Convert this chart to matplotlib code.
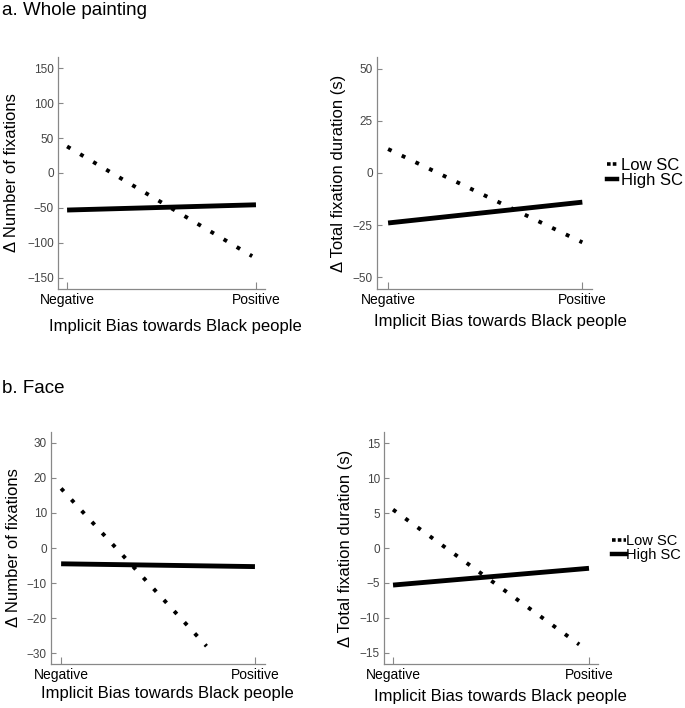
import matplotlib
matplotlib.use("Agg")
import matplotlib.pyplot as plt
from matplotlib.lines import Line2D

plt.rcParams['font.family'] = ['Liberation Sans', 'DejaVu Sans']

# x positions: 0 = Negative, 1 = Positive
bias_ticks = [0, 1]
bias_labels = ["Negative", "Positive"]

# a. whole painting
a_fix_low_x = [0, 0.98]
a_fix_low = [38, -119]
a_fix_high_x = [0, 1]
a_fix_high = [-53, -45.5]

a_dur_low_x = [0, 1.0]
a_dur_low = [11.5, -33.3]
a_dur_high_x = [0, 1]
a_dur_high = [-24, -14]

# b. face
b_fix_low_x = [0, 0.75]
b_fix_low = [17, -28]
b_fix_high_x = [0, 1]
b_fix_high = [-4.5, -5.3]

b_dur_low_x = [0, 0.95]
b_dur_low = [5.5, -13.8]
b_dur_high_x = [0, 1]
b_dur_high = [-5.3, -2.9]

fix_a_ticks = [-150, -100, -50, 0, 50, 100, 150]
dur_a_ticks = [-50, -25, 0, 25, 50]
fix_b_ticks = [-30, -20, -10, 0, 10, 20, 30]
dur_b_ticks = [-15, -10, -5, 0, 5, 10, 15]

xlab = "Implicit Bias towards Black people"
ylab_fix = "\u0394 Number of fixations"
ylab_dur = "\u0394 Total fixation duration (s)"

DOT = (0, (1, 2.9))


def style_axes(ax, yticks, ylim, ylabel, ylab_x, xlab_xy, xlim):
    ax.set_xlim(*xlim)
    ax.set_ylim(*ylim)
    for s in ['top', 'right']:
        ax.spines[s].set_visible(False)
    for s in ['left', 'bottom']:
        ax.spines[s].set_color('#888888')
        ax.spines[s].set_linewidth(0.9)
    ax.set_yticks(yticks)
    ax.set_xticks(bias_ticks)
    ax.set_xticklabels(bias_labels, fontsize=10, color='black')
    ax.tick_params(axis='y', direction='in', length=3.6, width=0.8,
                   color='#888888', labelsize=8.5, labelcolor='#444444', pad=3)
    ax.tick_params(axis='x', direction='in', length=5, width=0.8,
                   color='#888888', pad=3)
    ax.set_ylabel(ylabel, fontsize=12, va='center')
    ax.yaxis.set_label_coords(ylab_x, 0.5)
    ax.set_xlabel(xlab, fontsize=12, va='center')
    ax.xaxis.set_label_coords(*xlab_xy)


def draw(ax, lx, ly, hx, hy):
    ax.plot(lx, ly, color='black', lw=2.8, linestyle=DOT, dash_capstyle='butt')
    ax.plot(hx, hy, color='black', lw=3.5, solid_capstyle='butt')


fig = plt.figure(figsize=(6.85, 7.08), dpi=100)

ax1 = fig.add_axes([0.0847, 0.5918, 0.3022, 0.3277])
draw(ax1, a_fix_low_x, a_fix_low, a_fix_high_x, a_fix_high)
style_axes(ax1, fix_a_ticks, (-166, 166), ylab_fix, -0.225, (0.565, -0.16), (-0.048, 1.048))

ax2 = fig.add_axes([0.5504, 0.5918, 0.3139, 0.3277])
draw(ax2, a_dur_low_x, a_dur_low, a_dur_high_x, a_dur_high)
style_axes(ax2, dur_a_ticks, (-55.7, 55.7), ylab_dur, -0.18, (0.572, -0.142), (-0.057, 1.05))

ax3 = fig.add_axes([0.0745, 0.0621, 0.3124, 0.3277])
draw(ax3, b_fix_low_x, b_fix_low, b_fix_high_x, b_fix_high)
style_axes(ax3, fix_b_ticks, (-33.1, 33.1), ylab_fix, -0.175, (0.542, -0.129), (-0.052, 1.052))

ax4 = fig.add_axes([0.5606, 0.0621, 0.3124, 0.3277])
draw(ax4, b_dur_low_x, b_dur_low, b_dur_high_x, b_dur_high)
style_axes(ax4, dur_b_ticks, (-16.6, 16.6), ylab_dur, -0.178, (0.542, -0.142), (-0.046, 1.046))

# legends
h_low = Line2D([], [], color='black', lw=2.6, linestyle=(0, (1, 0.6)))
h_high = Line2D([], [], color='black', lw=3.2)
ax2.legend([h_low, h_high], ["Low SC", "High SC"], loc='center left',
           bbox_to_anchor=(1.07, 0.5), frameon=False, fontsize=12,
           handlelength=0.6, handletextpad=0.25, labelspacing=0.0,
           borderpad=0, borderaxespad=0)
ax4.legend([h_low, h_high], ["Low SC", "High SC"], loc='center left',
           bbox_to_anchor=(1.065, 0.5), frameon=False, fontsize=10.5,
           handlelength=0.95, handletextpad=0.0, labelspacing=0.0,
           borderpad=0, borderaxespad=0)

fig.text(0.003, 1 - 15 / 708, "a. Whole painting", fontsize=13.5, va='baseline', ha='left')
fig.text(0.003, 1 - 393 / 708, "b. Face", fontsize=13.5, va='baseline', ha='left')

fig.savefig("out.png", dpi=100)
